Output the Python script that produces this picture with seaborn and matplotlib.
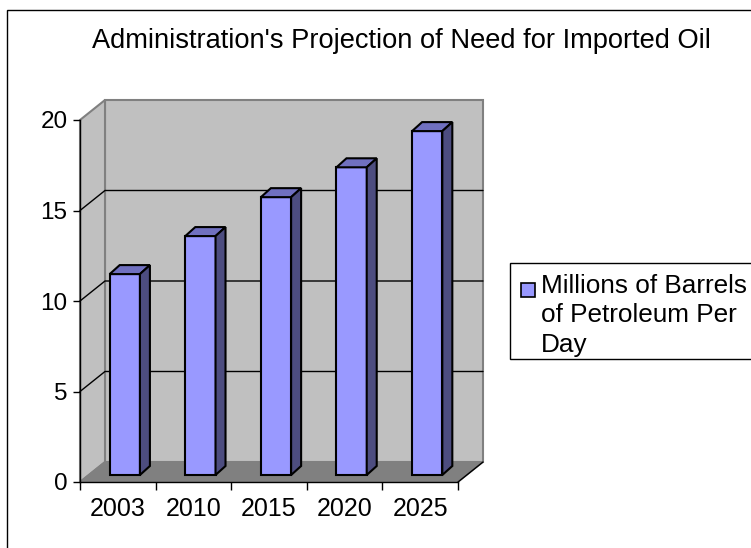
import matplotlib
matplotlib.use("Agg")
import matplotlib.pyplot as plt
import matplotlib.transforms as mtransforms
from matplotlib.patches import Polygon, Rectangle
import seaborn as sns
import pandas as pd

# ---- data ----
years = ["2003", "2010", "2015", "2020", "2025"]
values = [11.1, 13.2, 15.35, 17.0, 19.0]
series_label = "Millions of Barrels\nof Petroleum Per\nDay"
title = "Administration's Projection of Need for Imported Oil"
yticks = [0, 5, 10, 15, 20]

sns.set_style("white")
plt.rcParams["font.family"] = ["Liberation Sans", "DejaVu Sans"]
plt.rcParams["text.color"] = "black"
plt.rcParams["xtick.color"] = "black"
plt.rcParams["ytick.color"] = "black"
plt.rcParams["axes.labelcolor"] = "black"

W, H = 751, 548
fig = plt.figure(figsize=(W / 100, H / 100), dpi=100)
fig.patch.set_facecolor("white")

# front plane of the chart
ax = fig.add_axes([80 / W, (H - 482) / H, (458 - 80) / W, (482 - 120) / H])
ax.patch.set_visible(False)

df = pd.DataFrame({"year": years, "value": values})
sns.barplot(data=df, x="year", y="value", ax=ax, color="#9999FF",
            saturation=1, width=0.4, edgecolor="black", linewidth=1.5, zorder=3)
ax.set_xlim(-0.5, 4.5)
ax.set_ylim(0, 20)

# offsets in display pixels (dpi = 100)
BACK = (25, 20)   # back wall relative to front plane
BAR = (7, 7)      # bar front face relative to front plane
DEPTH = (10, 9)   # bar depth

def D(x, y, off=(0, 0)):
    p = ax.transData.transform((x, y))
    return (p[0] + off[0], p[1] + off[1])

ident = mtransforms.IdentityTransform()
wall_c, floor_c, edge_c = "#C0C0C0", "#808080", "#808080"

# back wall
ax.add_patch(Polygon([D(-0.5, 0, BACK), D(4.5, 0, BACK), D(4.5, 20, BACK), D(-0.5, 20, BACK)],
                     closed=True, facecolor=wall_c, edgecolor=edge_c, lw=1.5,
                     transform=ident, clip_on=False, zorder=0.2))
# side wall
ax.add_patch(Polygon([D(-0.5, 0), D(-0.5, 0, BACK), D(-0.5, 20, BACK), D(-0.5, 20)],
                     closed=True, facecolor=wall_c, edgecolor=edge_c, lw=1.5,
                     transform=ident, clip_on=False, zorder=0.2))
# floor
ax.add_patch(Polygon([D(-0.5, 0), D(4.5, 0), D(4.5, 0, BACK), D(-0.5, 0, BACK)],
                     closed=True, facecolor=floor_c, edgecolor=edge_c, lw=1.2,
                     transform=ident, clip_on=False, zorder=0.3))
# gridlines
for t in yticks[1:-1]:
    a, b, c = D(-0.5, t), D(-0.5, t, BACK), D(4.5, t, BACK)
    ax.add_line(plt.Line2D([a[0], b[0], c[0]], [a[1], b[1], c[1]], color="black",
                           lw=1.0, transform=ident, clip_on=False, zorder=0.5))

# bars: shift front faces, add top and side faces
for p in ax.patches[:]:
    if not isinstance(p, Rectangle):
        continue
    x0, w, h = p.get_x(), p.get_width(), p.get_height()
    if h <= 0:
        continue
    p.set_transform(ax.transData + mtransforms.Affine2D().translate(*BAR))
    p.set_clip_on(False)
    off2 = (BAR[0] + DEPTH[0], BAR[1] + DEPTH[1])
    top = [D(x0, h, BAR), D(x0 + w, h, BAR), D(x0 + w, h, off2), D(x0, h, off2)]
    side = [D(x0 + w, 0, BAR), D(x0 + w, 0, off2), D(x0 + w, h, off2), D(x0 + w, h, BAR)]
    ax.add_patch(Polygon(top, closed=True, facecolor="#7070C0", edgecolor="black", lw=1.5,
                         transform=ident, clip_on=False, zorder=3))
    ax.add_patch(Polygon(side, closed=True, facecolor="#4D4D80", edgecolor="black", lw=1.5,
                         transform=ident, clip_on=False, zorder=3))

# floor right edge (front corner to back)
a, b = D(4.5, 0), D(4.5, 0, BACK)
ax.add_line(plt.Line2D([a[0], b[0]], [a[1], b[1]], color="black", lw=1.0,
                       transform=ident, clip_on=False, zorder=0.6))

# axes styling
for s in ["top", "right"]:
    ax.spines[s].set_visible(False)
for s in ["left", "bottom"]:
    ax.spines[s].set_color("black")
    ax.spines[s].set_linewidth(1.0)
    ax.spines[s].set_zorder(5)
ax.set_yticks(yticks)
ax.set_yticklabels([str(t) for t in yticks])
ax.set_xticks([-0.5, 0.5, 1.5, 2.5, 3.5, 4.5])
ax.set_xticklabels([])
ax.set_xticks(range(len(years)), minor=True)
ax.set_xticklabels(years, minor=True)
ax.tick_params(axis="y", which="major", direction="out", length=5, width=1,
               color="black", labelcolor="black", labelsize=17.5, pad=4, left=True)
ax.tick_params(axis="x", which="major", direction="out", length=6, width=1,
               color="black", bottom=True)
ax.tick_params(axis="x", which="minor", length=0, labelsize=18, pad=11,
               labelcolor="black")
ax.set_xlabel("")
ax.set_ylabel("")

# title
fig.text(401 / W, 1 - 48 / H, title, ha="center", va="baseline", fontsize=19.6,
         color="black")

# legend (drawn as a framed box with a swatch and the series label)
fig.patches.append(Rectangle((510 / W, 1 - 359 / H), 260 / W, 96 / H,
                             transform=fig.transFigure, facecolor="white",
                             edgecolor="black", lw=1.0, zorder=5))
fig.patches.append(Rectangle((521 / W, 1 - 297 / H), 14 / W, 14 / H,
                             transform=fig.transFigure, facecolor="#9999FF",
                             edgecolor="black", lw=1.2, zorder=6))
fig.text(541 / W, 1 - 352 / H, series_label, ha="left", va="baseline",
         fontsize=18.8, linespacing=1.30, color="black", zorder=7)

# outer chart border
fig.patches.append(Rectangle((7 / W, -0.1), 1.2, 1 - 10 / H + 0.1, transform=fig.transFigure,
                             fill=False, edgecolor="black", lw=1.0, zorder=10))

fig.savefig("out.png", dpi=100)
